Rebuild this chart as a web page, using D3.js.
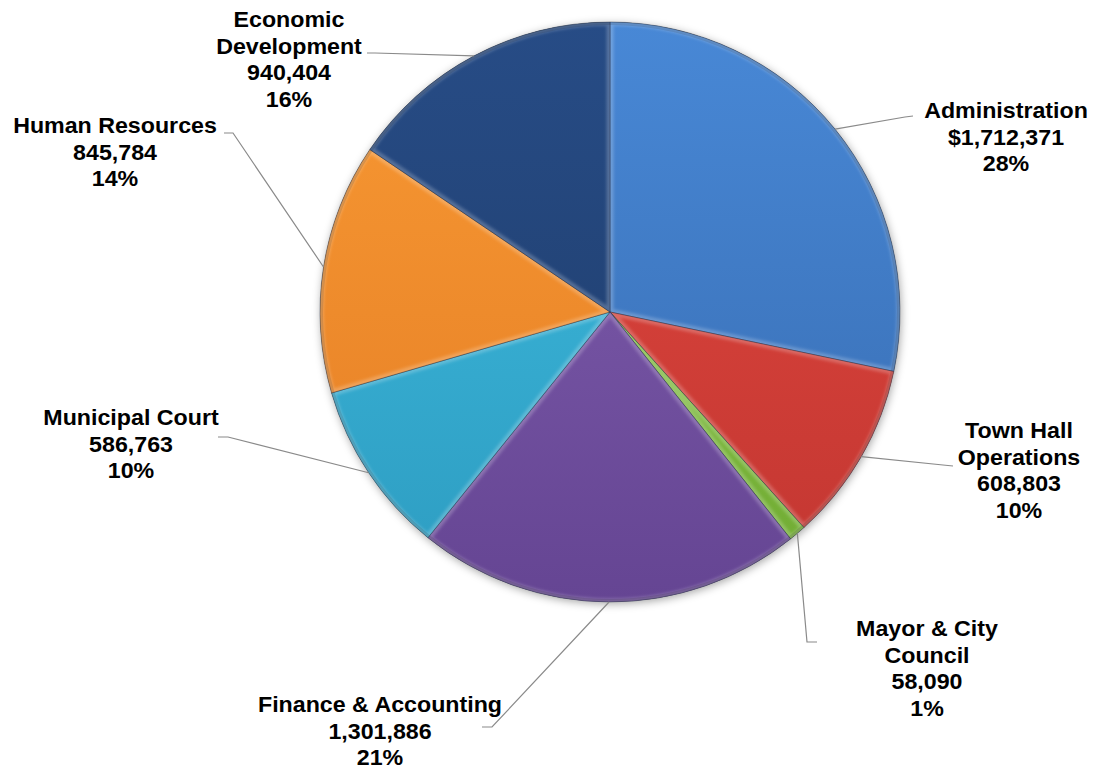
<!DOCTYPE html>
<html>
<head>
<meta charset="utf-8">
<script src="https://cdn.jsdelivr.net/npm/d3@7"></script>
<style>
  html, body { margin: 0; padding: 0; background: #ffffff; }
  svg { display: block; }
  .lbl { font-family: "Liberation Sans", Arial, sans-serif; font-weight: bold; font-size: 21.5px; fill: #000; }
</style>
</head>
<body>
<svg id="chart" width="1097" height="770"></svg>
<script>
// Departmental budget by category
const categories = ["Administration", "Town Hall Operations", "Mayor & City Council", "Finance & Accounting", "Municipal Court", "Human Resources", "Economic Development"];
const values = [1712371, 608803, 58090, 1301886, 586763, 845784, 940404];
const valueLabels = ["$1,712,371", "608,803", "58,090", "1,301,886", "586,763", "845,784", "940,404"];
const percentLabels = ["28%", "10%", "1%", "21%", "10%", "14%", "16%"];
const nameLines = [["Administration"], ["Town Hall", "Operations"], ["Mayor & City", "Council"], ["Finance & Accounting"], ["Municipal Court"], ["Human Resources"], ["Economic", "Development"]];

// Slice colours: [top, bottom] of each slice's vertical shading
const sliceColors = [
  ["#4888d6", "#376bb0"],
  ["#e2483f", "#c23631"],
  ["#8ccb46", "#70aa34"],
  ["#8260b0", "#654593"],
  ["#3fbde0", "#2d9cc1"],
  ["#f89933", "#e47d25"],
  ["#274c86", "#1e3b68"]
];

// Label placement: label centre x, first baseline, and leader-line bend/end points
const labelLayout = [
  { cx: 1006, y: 118, knee: [905, 117], end: [913, 116] },
  { cx: 1019, y: 438, knee: [943, 465], end: [953, 466] },
  { cx: 927,  y: 636, knee: [807, 642], end: [817, 642] },
  { cx: 380,  y: 712, knee: [492, 727], end: [482, 727] },
  { cx: 131,  y: 425, knee: [228, 437], end: [218, 437] },
  { cx: 115,  y: 133, knee: [233, 133], end: [224, 133] },
  { cx: 289,  y: 27,  knee: [375, 53],  end: [367, 53] }
];

const cx = 610, cy = 312, R = 290;
const lineGap = 26.7;

const svg = d3.select("#chart");
const defs = svg.append("defs");

// soft shadow under the pie
const shadow = defs.append("filter").attr("id", "pieShadow")
  .attr("x", "-20%").attr("y", "-20%").attr("width", "140%").attr("height", "140%");
shadow.append("feDropShadow").attr("dx", 1).attr("dy", 2).attr("stdDeviation", 4)
  .attr("flood-color", "#000").attr("flood-opacity", 0.35);

const soft = defs.append("filter").attr("id", "bevelBlur");
soft.append("feGaussianBlur").attr("stdDeviation", 1.6);

const data = categories.map((c, i) => ({ name: c, value: values[i], i }));

const pie = d3.pie().value(d => d.value).sort(null);
const arcs = pie(data);
const arc = d3.arc().innerRadius(0).outerRadius(R);

// per-slice vertical gradients spanning the pie
sliceColors.forEach((c, i) => {
  const g = defs.append("linearGradient").attr("id", "grad" + i)
    .attr("gradientUnits", "userSpaceOnUse")
    .attr("x1", 0).attr("y1", -R).attr("x2", 0).attr("y2", R);
  g.append("stop").attr("offset", "0%").attr("stop-color", c[0]);
  g.append("stop").attr("offset", "100%").attr("stop-color", c[1]);
  defs.append("clipPath").attr("id", "clip" + i)
    .append("path").attr("d", arc(arcs[i]));
});

const gPie = svg.append("g").attr("transform", `translate(${cx},${cy})`);

// shadow base
gPie.append("circle").attr("r", R).attr("fill", "#555").attr("filter", "url(#pieShadow)");

const slices = gPie.selectAll("g.slice").data(arcs).enter().append("g").attr("class", "slice");

slices.append("path")
  .attr("d", arc)
  .attr("fill", (d, i) => `url(#grad${i})`);

// inner bevel highlight along slice edges
slices.append("path")
  .attr("d", arc)
  .attr("fill", "none")
  .attr("stroke", "#ffffff")
  .attr("stroke-opacity", 0.22)
  .attr("stroke-width", 7)
  .attr("filter", "url(#bevelBlur)")
  .attr("clip-path", (d, i) => `url(#clip${i})`);

// darker rim along the outer arc
const rimArc = d3.arc().innerRadius(R - 3).outerRadius(R);
slices.append("path")
  .attr("d", rimArc)
  .attr("fill", "#000")
  .attr("fill-opacity", 0.12);

// thin dark outline
slices.append("path")
  .attr("d", arc)
  .attr("fill", "none")
  .attr("stroke", "#1d2b40")
  .attr("stroke-opacity", 0.5)
  .attr("stroke-width", 0.8);

// leader lines from the slice's outer edge at mid-angle
const lineGen = d3.line();
arcs.forEach((a, i) => {
  const mid = (a.startAngle + a.endAngle) / 2;
  const p0 = [cx + R * Math.sin(mid), cy - R * Math.cos(mid)];
  const L = labelLayout[i];
  svg.append("path")
    .attr("d", lineGen([p0, L.knee, L.end]))
    .attr("fill", "none")
    .attr("stroke", "#8a8a8a")
    .attr("stroke-width", 1.2);
});

// labels: name lines, value, percent
arcs.forEach((a, i) => {
  const L = labelLayout[i];
  const lines = nameLines[i].concat([valueLabels[i], percentLabels[i]]);
  const g = svg.append("g").attr("transform", `translate(${L.cx},${L.y}) scale(1.08,1)`);
  lines.forEach((t, k) => {
    g.append("text")
      .attr("class", "lbl")
      .attr("x", 0)
      .attr("y", k * lineGap)
      .attr("text-anchor", "middle")
      .text(t);
  });
});
</script>
</body>
</html>
